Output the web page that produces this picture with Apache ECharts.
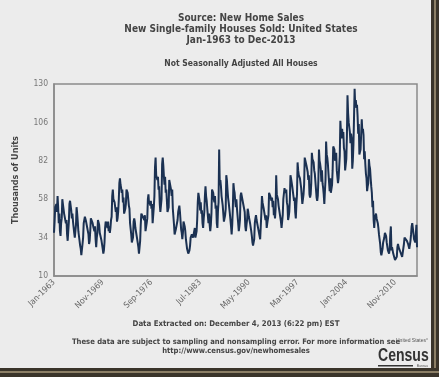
<!DOCTYPE html>
<html>
<head>
<meta charset="utf-8">
<script src="https://cdn.jsdelivr.net/npm/echarts@6/dist/echarts.min.js"></script>
<style>
  html, body { margin: 0; padding: 0; background: #ececec; }
  #chart { width: 439px; height: 377px; }
</style>
</head>
<body>
<div id="chart"></div>
<script>
// New single-family houses sold, NSA, thousands of units, monthly Jan..Dec
const sales1963to1969 = [
  37, 44, 53, 52, 55, 50, 60, 53, 43, 49, 38, 35,
  43, 46, 58, 55, 52, 49, 48, 48, 43, 45, 36, 32,
  38, 44, 55, 57, 54, 51, 46, 49, 44, 45, 37, 34,
  38, 42, 53, 49, 44, 38, 35, 36, 29, 27, 23, 22,
  30, 34, 43, 45, 47, 46, 44, 45, 40, 41, 36, 30,
  32, 38, 46, 46, 45, 43, 41, 41, 38, 41, 33, 28,
  34, 37, 45, 44, 42, 37, 36, 36, 32, 32, 27, 24
];
const sales1970to1979 = [
  26, 31, 40, 44, 44, 42, 40, 44, 38, 41, 37, 40,
  45, 47, 60, 64, 58, 57, 56, 56, 50, 53, 44, 46,
  50, 57, 68, 71, 67, 65, 62, 64, 56, 59, 49, 50,
  52, 55, 64, 63, 62, 58, 54, 52, 43, 42, 36, 31,
  30, 34, 44, 46, 44, 40, 40, 39, 33, 34, 28, 24,
  25, 32, 42, 49, 50, 50, 49, 49, 45, 48, 38, 39,
  43, 46, 58, 61, 55, 57, 54, 57, 52, 55, 43, 44,
  53, 60, 78, 84, 73, 74, 70, 72, 64, 66, 55, 50,
  50, 58, 80, 84, 79, 72, 67, 72, 62, 64, 57, 50,
  51, 53, 70, 71, 70, 64, 60, 64, 52, 52, 42, 36
];
const sales1980to1989 = [
  35, 39, 39, 40, 45, 50, 52, 54, 50, 50, 39, 37,
  33, 37, 44, 44, 41, 38, 33, 32, 27, 28, 24, 25,
  26, 29, 34, 35, 36, 35, 34, 35, 34, 40, 34, 33,
  38, 45, 56, 62, 61, 57, 51, 56, 49, 51, 43, 40,
  46, 50, 60, 66, 60, 57, 52, 52, 43, 49, 42, 38,
  42, 49, 64, 65, 62, 58, 56, 60, 52, 54, 43, 40,
  51, 56, 89, 68, 70, 66, 60, 60, 54, 53, 44, 46,
  48, 52, 73, 70, 64, 59, 56, 56, 49, 48, 41, 36,
  42, 52, 68, 64, 62, 57, 53, 58, 52, 52, 43, 38,
  41, 45, 60, 62, 60, 58, 58, 59, 52, 50, 41, 38
];
const sales1990to1999 = [
  42, 45, 52, 50, 47, 45, 43, 44, 38, 35, 31, 29,
  28, 33, 43, 46, 48, 45, 44, 45, 39, 40, 35, 33,
  41, 49, 60, 56, 54, 52, 51, 52, 45, 48, 40, 43,
  42, 48, 62, 62, 60, 59, 57, 59, 53, 57, 48, 50,
  46, 52, 73, 61, 62, 58, 54, 54, 49, 50, 44, 40,
  44, 48, 58, 59, 65, 62, 63, 64, 56, 54, 45, 47,
  50, 58, 73, 71, 71, 66, 65, 66, 57, 59, 50, 46,
  55, 61, 81, 76, 73, 72, 71, 72, 65, 66, 55, 56,
  61, 67, 84, 83, 83, 79, 78, 75, 70, 73, 61, 59,
  61, 68, 87, 83, 84, 81, 76, 74, 69, 69, 59, 57
];
const sales2000to2009 = [
  60, 70, 89, 82, 80, 77, 69, 76, 68, 65, 61, 55,
  63, 70, 94, 86, 84, 80, 74, 75, 63, 71, 62, 62,
  67, 76, 91, 90, 89, 82, 82, 87, 76, 76, 68, 71,
  72, 85, 107, 100, 96, 102, 97, 100, 90, 88, 76, 75,
  83, 97, 123, 112, 106, 107, 100, 93, 99, 96, 77, 82,
  92, 109, 127, 116, 120, 115, 117, 110, 99, 105, 86, 87,
  89, 88, 108, 100, 102, 98, 83, 88, 80, 74, 71, 63,
  66, 68, 83, 79, 77, 71, 66, 62, 53, 57, 45, 40,
  46, 47, 49, 46, 46, 43, 40, 36, 33, 30, 25, 23,
  24, 27, 31, 32, 34, 37, 38, 35, 31, 32, 26, 25
];
const sales2010to2013 = [
  24, 27, 36, 41, 26, 28, 26, 24, 24, 23, 20, 19,
  21, 22, 28, 30, 28, 28, 27, 25, 24, 25, 22, 21,
  23, 30, 34, 34, 35, 34, 32, 31, 30, 29, 27, 26,
  32, 36, 41, 43, 40, 39, 33, 32, 31, 36, 42, 28
];
const sales = [].concat(sales1963to1969, sales1970to1979, sales1980to1989,
  sales1990to1999, sales2000to2009, sales2010to2013);

const monthNames = ['Jan', 'Feb', 'Mar', 'Apr', 'May', 'Jun', 'Jul', 'Aug', 'Sep', 'Oct', 'Nov', 'Dec'];
const firstYear = 1963;
const lastYear = 2013;
const months = [];
for (let y = firstYear; y <= lastYear; y++) {
  monthNames.forEach(m => months.push(m + '-' + y));
}

const yTicks = [10, 34, 58, 82, 106, 130];

const chart = echarts.init(document.getElementById('chart'));
const txt = '#444';
const font = 'DejaVu Sans Condensed';

const option = {
  backgroundColor: '#ececec',
  animation: false,
  title: [
    {
      text: 'Source: New Home Sales\nNew Single-family Houses Sold: United States\nJan-1963 to Dec-2013',
      left: 236, top: 8, textAlign: 'center',
      textStyle: { fontFamily: font, fontWeight: 'bold', fontSize: 10, lineHeight: 11, color: txt }
    },
    {
      text: 'Not Seasonally Adjusted All Houses',
      left: 236, top: 54, textAlign: 'center',
      textStyle: { fontFamily: font, fontWeight: 'bold', fontSize: 8.5, color: txt }
    }
  ],
  grid: { left: 54, top: 84, right: 22, bottom: 101 },
  xAxis: {
    type: 'category',
    data: months,
    boundaryGap: false,
    axisLine: { show: true, lineStyle: { color: '#8a8a8a', width: 1.5 } },
    axisTick: { show: false },
    axisLabel: {
      interval: 81, rotate: 45, fontSize: 8.5, color: '#666',
      fontFamily: font, margin: 5
    },
    splitLine: { show: false }
  },
  yAxis: {
    type: 'value',
    min: yTicks[0],
    max: yTicks[yTicks.length - 1],
    interval: 24,
    name: 'Thousands of Units',
    nameLocation: 'middle',
    nameGap: 34,
    nameTextStyle: { fontFamily: font, fontWeight: 'bold', fontSize: 9, color: txt },
    axisLine: { show: true, lineStyle: { color: '#8a8a8a', width: 1.5 } },
    axisTick: { show: false },
    axisLabel: { fontSize: 8.5, color: '#777', fontFamily: font, margin: 6 },
    splitLine: { show: false }
  },
  series: [
    {
      type: 'line',
      data: sales,
      showSymbol: false,
      lineStyle: { color: '#1b3152', width: 2 },
      z: 3
    }
  ],
  graphic: [
    // plot frame (top and right)
    {
      type: 'rect', z: 1,
      shape: { x: 54, y: 84, width: 363, height: 192 },
      style: { fill: 'none', stroke: '#8a8a8a', lineWidth: 1.5 }
    },
    {
      type: 'text', z: 5, x: 236, y: 320,
      style: {
        text: 'Data Extracted on: December 4, 2013 (6:22 pm) EST',
        textAlign: 'center',
        font: 'bold 7.8px "DejaVu Sans Condensed"', fill: txt
      }
    },
    {
      type: 'text', z: 5, x: 236, y: 338,
      style: {
        text: 'These data are subject to sampling and nonsampling error. For more information see\nhttp://www.census.gov/newhomesales',
        textAlign: 'center', lineHeight: 9,
        font: 'bold 7.6px "DejaVu Sans Condensed"', fill: txt
      }
    },
    // Census Bureau mark
    {
      type: 'text', z: 5, x: 428, y: 338,
      style: { text: 'United States\u00b0', textAlign: 'right', font: '5px "Liberation Sans"', fill: '#555' }
    },
    {
      type: 'text', z: 5, x: 378, y: 347, scaleX: 0.78,
      style: { text: 'Census', textAlign: 'left', font: 'bold 18px "Liberation Sans"', fill: '#333' }
    },
    {
      type: 'rect', z: 5,
      shape: { x: 378, y: 365, width: 35, height: 1.5 },
      style: { fill: '#333' }
    },
    {
      type: 'text', z: 5, x: 428, y: 364,
      style: { text: 'Bureau', textAlign: 'right', font: '3.5px "Liberation Sans"', fill: '#555' }
    },
    // picture frame shadow
    {
      type: 'rect', z: 6,
      shape: { x: 431, y: 0, width: 8, height: 377 },
      style: { fill: '#3a342a' }
    },
    {
      type: 'rect', z: 6,
      shape: { x: 434, y: 0, width: 2, height: 377 },
      style: { fill: '#8c7f66' }
    },
    {
      type: 'rect', z: 6,
      shape: { x: 0, y: 368, width: 439, height: 9 },
      style: { fill: '#3a342a' }
    },
    {
      type: 'rect', z: 6,
      shape: { x: 0, y: 371, width: 439, height: 2 },
      style: { fill: '#8c7f66' }
    }
  ]
};

chart.setOption(option);
</script>
</body>
</html>
